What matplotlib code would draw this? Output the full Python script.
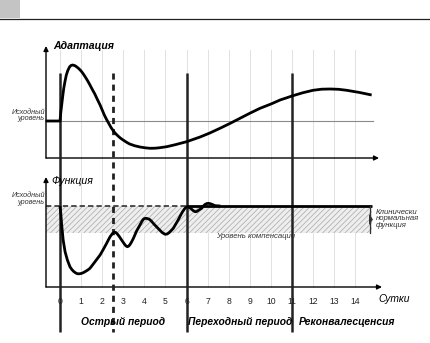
import matplotlib
matplotlib.use("Agg")
import matplotlib.pyplot as plt
from matplotlib.patches import Rectangle, Polygon

plt.rcParams['font.family'] = ['Liberation Sans', 'DejaVu Sans']
plt.rcParams['hatch.linewidth'] = 0.5

# ---- data -------------------------------------------------------------
days = list(range(0, 15))
day_labels = [str(d) for d in days]

# adaptation curve (day, level; level measured downward on the sheet)
adapt_day = [-0.68, 0, 0.04, 0.08, 0.13, 0.18, 0.24, 0.3, 0.37, 0.45, 0.52, 0.6,
             0.7, 0.8, 0.9, 1.0, 1.1, 1.2, 1.31, 1.42, 1.53, 1.65, 1.77,
             1.9, 2.0, 2.1, 2.2, 2.3, 2.41, 2.53, 2.64, 2.75, 2.87, 2.99, 3.15,
             3.3, 3.55, 3.79, 4.03, 4.27, 4.5, 4.7, 5.06, 5.5,
             6.0, 6.64, 7.1, 7.58, 8.05, 8.53, 9.0, 9.48, 10.0, 10.43, 11.04,
             11.5, 11.99, 12.4, 12.8, 13.2, 13.59, 14.2, 14.77]
adapt_lvl = [121, 121, 112, 105, 96, 88, 81, 75, 70.5, 67, 65.5, 65,
             65.6, 67, 68.8, 71, 73.8, 77, 80.8, 85, 89.4, 94, 99.4,
             105, 110, 115, 119.2, 123, 127.2, 131, 133.7, 136, 138.2, 140, 142.2,
             144, 145.8, 147, 147.8, 148.3, 148.2, 147.8, 146.7, 144.5,
             141.7, 137, 133, 128.3, 123.5, 118.3, 113.2, 108.3, 104, 100, 95.7,
             92.8, 90.3, 89.2, 89, 89.3, 90.3, 92.5, 95]

# function curve: damped oscillation back to the baseline
func_day = [0, 0.04, 0.08, 0.15, 0.24, 0.35, 0.47, 0.56, 0.65, 0.74, 0.82, 0.91, 1.0,
            1.1, 1.2, 1.31, 1.42, 1.53, 1.65, 1.77, 1.9, 2.05, 2.21, 2.3, 2.38, 2.47,
            2.56, 2.64, 2.72, 2.82, 2.92, 3.05, 3.12, 3.19, 3.25, 3.32, 3.4,
            3.48, 3.63, 3.79, 3.87, 3.94, 4.01, 4.08, 4.16, 4.25, 4.33, 4.42, 4.56,
            4.7, 4.84, 4.98, 5.08, 5.18, 5.27, 5.37,
            5.48, 5.6, 5.7, 5.8, 5.9, 6.0, 6.1, 6.2, 6.3, 6.4, 6.48, 6.55, 6.63,
            6.71, 6.79, 6.87, 6.95, 7.03, 7.12, 7.2, 7.35, 7.6]
func_lvl = [206, 214, 225, 240, 251.7, 260, 266.7, 269.5, 271.5, 272.9, 273.7, 273.8, 273.5,
            272.7, 271.5, 270.1, 268.3, 265.3, 262, 258.6, 255, 249.5, 243.3, 239.6, 236.5, 234,
            232.3, 232.4, 234, 236.8, 240, 244, 245.8, 246.7, 246.2, 244.5, 241.6,
            238.3, 231, 225, 221.8, 219.5, 218.5, 218.3, 218.7, 219.5, 221.1, 223.3, 226.5,
            229.5, 232.5, 234.3, 234, 232.5, 230.6, 228.3,
            224.3, 220, 215.8, 212, 208.9, 206.7, 207.2, 208.5, 210.4, 211.7, 211.5, 210.5, 209.4,
            208.3, 206.2, 204.5, 203.6, 203.3, 203.7, 204.3, 205.7, 206]

baseline_adapt = 121      # initial adaptation level
baseline_func = 206       # initial function level
compensation = 233        # compensation level
norm_end = 14.77
period_bounds = [0, 6, 11]
acute_split = 2.5
periods = ["Острый период", "Переходный период", "Реконвалесценсия"]
period_centers = [3.0, 8.55, 13.6]

# ---- figure -----------------------------------------------------------
W, H = 431, 343
fig = plt.figure(figsize=(W / 100, H / 100), dpi=100)
ax = fig.add_axes([0, 0, 1, 1])
X0, DX = 60.0, 21.1


def dx(px):
    return (px - X0) / DX


ax.set_xlim(dx(0), dx(W))
ax.set_ylim(H, 0)
ax.axis('off')

# header
ax.add_patch(Rectangle((dx(0), 0), dx(20) - dx(0), 18, color='#c4c4c4', lw=0))
ax.plot([dx(0), dx(430)], [19, 19], color='#222222', lw=0.9)

# light vertical grid
for d in days:
    ax.plot([d, d], [50, 287], color='#dcdcdc', lw=0.6, zorder=0)

# compensation band
xb = [dx(46), dx(372)]
ax.fill_between(xb, baseline_func, compensation, facecolor='#eeeeee',
                edgecolor='#a8a8a8', hatch='//////', lw=0, zorder=1)

# axes with arrows
arrow = dict(arrowstyle='-|>', lw=1.0, color='black', mutation_scale=7,
             shrinkA=0, shrinkB=0)
ax.annotate('', xy=(dx(46), 46), xytext=(dx(46), 158), arrowprops=arrow)
ax.annotate('', xy=(dx(379), 158), xytext=(dx(46), 158), arrowprops=arrow)
ax.annotate('', xy=(dx(46), 177), xytext=(dx(46), 287), arrowprops=arrow)
ax.annotate('', xy=(dx(382), 287), xytext=(dx(46), 287), arrowprops=arrow)

# initial level lines
ax.plot([dx(46), dx(373)], [baseline_adapt, baseline_adapt], color='#8a8a8a', lw=0.8, zorder=2)
ax.plot([dx(46), period_bounds[1]], [baseline_func, baseline_func], color='#222222',
        lw=1.1, ls=(0, (3.5, 2)), zorder=2)
ax.plot([period_bounds[1], norm_end], [baseline_func, baseline_func],
        color='black', lw=2.0, zorder=4, solid_capstyle='butt')

# period boundaries
for d in period_bounds:
    ax.plot([d, d], [73, 332], color='#222222', lw=1.8, zorder=3, solid_capstyle='butt')
ax.plot([acute_split, acute_split], [73, 332], color='#222222', lw=2.0,
        ls=(0, (2.2, 1.8)), zorder=3)

# curves
ax.plot(adapt_day, adapt_lvl, color='black', lw=2.0, zorder=5,
        solid_capstyle='butt', solid_joinstyle='round')
ax.plot(func_day, func_lvl, color='black', lw=2.0, zorder=5,
        solid_capstyle='butt', solid_joinstyle='round')

# brace marking the normal range
ax.plot([dx(370.5), dx(370.5)], [206, 233], color='#333333', lw=0.9, zorder=4)
ax.add_patch(Polygon([(dx(369), 214), (dx(373), 219.5), (dx(369), 225)],
                     closed=True, color='#333333', lw=0, zorder=4))

# text
ax.text(dx(53), 46, "Адаптация", fontsize=7.6, fontweight='bold', style='italic',
        va='center', ha='left')
ax.text(dx(51), 181.5, "Функция", fontsize=7.6, style='italic', va='center', ha='left')
for y0 in (115.5, 199):
    ax.text(dx(45), y0, "Исходный\nуровень", fontsize=5.2, style='italic', color='#333333',
            ha='right', va='center', linespacing=0.95)
ax.text(dx(216), 237, "Уровень компенсации", fontsize=5.6, style='italic',
        color='#333333', ha='left', va='center')
ax.text(dx(376), 219, "Клинически\nнормальная\nфункция", fontsize=5.6, style='italic',
        color='#333333', ha='left', va='center', linespacing=0.95)

for d, lab in zip(days, day_labels):
    ax.text(d, 301, lab, fontsize=6.2, ha='center', va='center', color='#222222')
ax.text(dx(378), 299.5, "Сутки", fontsize=7.4, style='italic', ha='left', va='center')

for c, p in zip(period_centers, periods):
    ax.text(c, 322, p, fontsize=7.4, fontweight='bold', style='italic',
            ha='center', va='center')

fig.savefig("out.png", dpi=100)
